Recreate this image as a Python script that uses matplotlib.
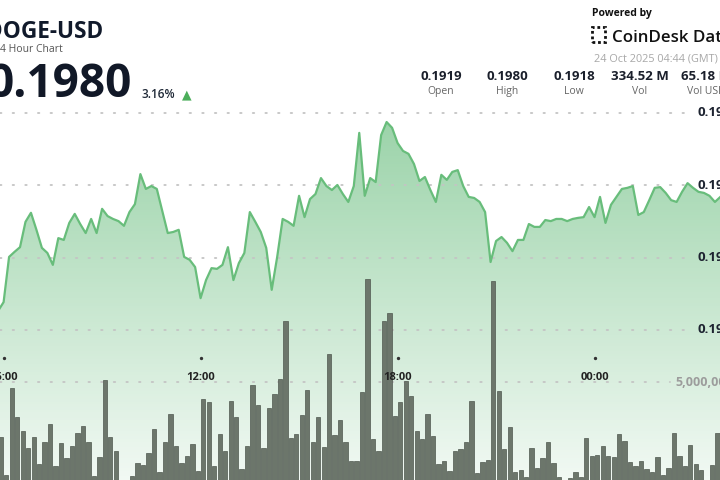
import numpy as np
import pandas as pd
import matplotlib
matplotlib.use("Agg")
import matplotlib.pyplot as plt
import matplotlib.dates as mdates
from matplotlib.patches import Polygon, Rectangle

plt.rcParams['font.family'] = ['Open Sans', 'DejaVu Sans']

# Цена, шаг 10 минут, начиная с 05:50 (23 Oct)
price = [
    0.19253, 0.19277, 0.19402, 0.19416, 0.19429, 0.19499, 0.19524, 0.19477,
    0.19427, 0.19413, 0.19380, 0.19454, 0.19449, 0.19496, 0.19521, 0.19493,
    0.19468, 0.19507, 0.19468, 0.19535, 0.19515, 0.19507, 0.19501, 0.19488,
    0.19526, 0.19548, 0.19631, 0.19590, 0.19598, 0.19590, 0.19529, 0.19468,
    0.19471, 0.19477, 0.19402, 0.19394, 0.19374, 0.19288, 0.19338, 0.19371,
    0.19369, 0.19380, 0.19429, 0.19338, 0.19385, 0.19413, 0.19526, 0.19499,
    0.19471, 0.19427, 0.19311, 0.19402, 0.19507, 0.19499, 0.19488, 0.19571,
    0.19512, 0.19562, 0.19576, 0.19620, 0.19598, 0.19587, 0.19601, 0.19576,
    0.19554, 0.19598, 0.19745, 0.19571, 0.19620, 0.19609, 0.19739, 0.19775,
    0.19759, 0.19717, 0.19695, 0.19687, 0.19659, 0.19612, 0.19623, 0.19587,
    0.19554, 0.19629, 0.19615, 0.19637, 0.19642, 0.19598, 0.19568, 0.19565,
    0.19554, 0.19526, 0.19388, 0.19446, 0.19457, 0.19441, 0.19418, 0.19449,
    0.19449, 0.19493, 0.19485, 0.19485, 0.19504, 0.19501, 0.19507, 0.19507,
    0.19501, 0.19507, 0.19510, 0.19512, 0.19540, 0.19512, 0.19568, 0.19496,
    0.19546, 0.19568, 0.19590, 0.19593, 0.19598, 0.19518, 0.19526, 0.19559,
    0.19593, 0.19595, 0.19579, 0.19559, 0.19554, 0.19582, 0.19606, 0.19593,
    0.19582, 0.19579, 0.19571, 0.19554, 0.19568,
]

# Объём (млн), 10-минутные интервалы, первый интервал 05:50-06:00
volume_m = [
    2.41, 0.61, 4.72, 3.35, 2.69, 1.89, 2.41, 1.13, 2.17, 3.02, 1.04, 2.12,
    1.42, 1.98, 2.59, 2.92, 2.17, 0.57, 1.46, 5.09, 2.41, 1.75, 0.10, 0.10,
    0.57, 1.18, 1.08, 1.65, 2.78, 0.75, 2.17, 3.49, 1.98, 1.18, 1.51, 2.08,
    0.80, 4.20, 4.06, 1.04, 2.55, 1.75, 4.10, 3.35, 0.90, 1.98, 4.86, 3.92,
    1.89, 3.77, 4.43, 5.14, 7.88, 2.36, 2.55, 3.44, 4.62, 2.17, 3.35, 1.93,
    6.32, 2.50, 3.21, 2.17, 1.27, 1.27, 4.53, 9.86, 2.31, 1.75, 7.88, 8.25,
    3.40, 4.06, 5.05, 4.34, 2.69, 2.31, 3.49, 2.45, 1.13, 1.27, 0.80, 1.75,
    1.84, 2.17, 4.10, 0.71, 1.23, 1.32, 9.76, 4.58, 1.84, 2.88, 0.75, 0.85,
    0.52, 1.89, 0.94, 1.42, 2.17, 1.18, 0.52, 0.38, 0.47, 0.75, 0.52, 2.36,
    1.51, 1.56, 1.98, 1.51, 1.46, 2.55, 2.22, 1.23, 1.04, 1.27, 0.90, 0.75,
    1.46, 0.61, 0.94, 2.59, 1.51, 1.04, 2.03, 1.13, 0.85, 0.38, 1.08, 2.59,
    1.23,
]

price_grid = [0.1980, 0.1960, 0.1940, 0.1920]
vol_grid = [5.0]
vol_grid_labels = ['5,000,000']
tick_hours = [0, 6, 12, 18]
tick_labels = ['06:00', '12:00', '18:00', '00:00']

stat_values = ['0.1919', '0.1980', '0.1918', '334.52 M', '65.18 M']
stat_labels = ['Open', 'High', 'Low', 'Vol', 'Vol USD']

t0 = pd.Timestamp('2025-10-23 06:00')
price_times = pd.date_range(t0 - pd.Timedelta(minutes=10), periods=len(price), freq='10min')
bar_times = pd.date_range(t0 - pd.Timedelta(minutes=5), periods=len(volume_m), freq='10min')
px_h = 32.83
xlo = mdates.date2num(t0 - pd.Timedelta(hours=3.6 / px_h))
xhi = mdates.date2num(t0 + pd.Timedelta(hours=716.4 / px_h))
ylo, yhi = 0.187852, 0.201124

W, H = 720, 480
fig = plt.figure(figsize=(7.2, 4.8), dpi=100)
ax = fig.add_axes([0, 0, 1, 1])
ax.set_xlim(xlo, xhi)
ax.set_ylim(ylo, yhi)
ax.axis('off')

px = mdates.date2num(price_times)

# Градиентная заливка под линией
rows = np.arange(H)
alpha = np.clip(0.08 + 0.54 * (H - rows) / 367, 0, 0.72)
rgba = np.zeros((H, 1, 4))
rgba[:, 0, 0] = 0.36
rgba[:, 0, 1] = 0.72
rgba[:, 0, 2] = 0.45
rgba[:, 0, 3] = alpha
im = ax.imshow(rgba, extent=[xlo, xhi, ylo, yhi], aspect='auto', origin='upper',
               zorder=1, interpolation='bilinear')
verts = [(px[0], ylo)] + list(zip(px, price)) + [(px[-1], ylo)]
clip = Polygon(verts, closed=True, facecolor='none', edgecolor='none')
ax.add_patch(clip)
im.set_clip_path(clip)

for v in price_grid:
    ax.axhline(v, xmin=0, xmax=690 / W, color='#c4c4c4', lw=1.3,
               linestyle=(0, (0.8, 6.2)), dash_capstyle='round', zorder=2)
    ax.text(697 / W, v, f'{v:.4f}', transform=ax.get_yaxis_transform(),
            ha='left', va='center', fontsize=9.5, fontweight='bold', color='#1d2330')

ax.plot(px, price, color='#68bd7b', lw=1.6, zorder=3, solid_joinstyle='round')

# Объём
ax2 = ax.twinx()
ax2.set_ylim((488 - 480) / 21.2, 488 / 21.2)
ax2.set_xlim(xlo, xhi)
ax2.axis('off')
for v, lab in zip(vol_grid, vol_grid_labels):
    ax2.axhline(v, xmin=0, xmax=670 / W, color='#c4c4c4', lw=1.3,
                linestyle=(0, (0.8, 6.2)), dash_capstyle='round', zorder=1)
    ax2.text(675 / W, v, lab, transform=ax2.get_yaxis_transform(),
             ha='left', va='center', fontsize=9, fontweight='bold', color='#9c9c9c')
ax2.bar(mdates.date2num(bar_times), volume_m, width=7.9 / 1440,
        color='#6c766b', edgecolor='#4f584f', lw=0.5, zorder=2)

tx = [mdates.date2num(t0 + pd.Timedelta(hours=h)) for h in tick_hours]
ax2.plot(tx, [1 - 358 / H] * len(tx), transform=ax2.get_xaxis_transform(),
         ls='none', marker='o', ms=1.4, color='#333333', zorder=4)
for x, lab in zip(tx, tick_labels):
    ax2.text(x, 1 - 377 / H, lab, transform=ax2.get_xaxis_transform(),
             ha='center', va='center', fontsize=8, fontweight='bold', color='#222222', zorder=5)


def ft(x, y, s, **kw):
    fig.text(x / W, 1 - y / H, s, **kw)


# Шапка
ft(-14, 37.5, 'DOGE-USD', fontsize=16.3, fontweight='bold', color='#111a2b', va='baseline')
ft(-6, 51.5, '24 Hour Chart', fontsize=7.5, color='#555555', va='baseline')
ft(-13, 97, '0.1980', fontsize=33, fontweight='bold', color='#111827', va='baseline')
ft(141, 97.5, '3.16%', fontsize=8.5, fontweight='semibold', color='#1f2937', va='baseline')
ft(182, 98, '\u25b2', fontsize=9, color='#4cae5b', va='baseline',
   family=['DejaVu Sans'])

ft(592, 16, 'Powered by', fontsize=7.5, fontweight='bold', color='#111111', va='baseline')
fig.patches.append(Rectangle((592 / W, 1 - 42 / H), 13 / W, 15 / H, transform=fig.transFigure,
                             fill=False, lw=2, ls=(0, (1, 1)), edgecolor='#111111'))
ft(612, 42, 'CoinDesk Data', fontsize=12.2, fontweight='semibold', color='#111111', va='baseline')
ft(594, 61.5, '24 Oct 2025 04:44 (GMT)', fontsize=7.8, color='#a8a8a8', va='baseline')

stat_x = [441, 507.5, 574, 640, 706]
for x, val, lab in zip(stat_x, stat_values, stat_labels):
    ft(x, 80, val, fontsize=9.5, fontweight='bold', color='#1a1f2b', ha='center', va='baseline')
    ft(x, 94, lab, fontsize=7.5, color='#666666', ha='center', va='baseline')

fig.savefig('out.png', dpi=100)
